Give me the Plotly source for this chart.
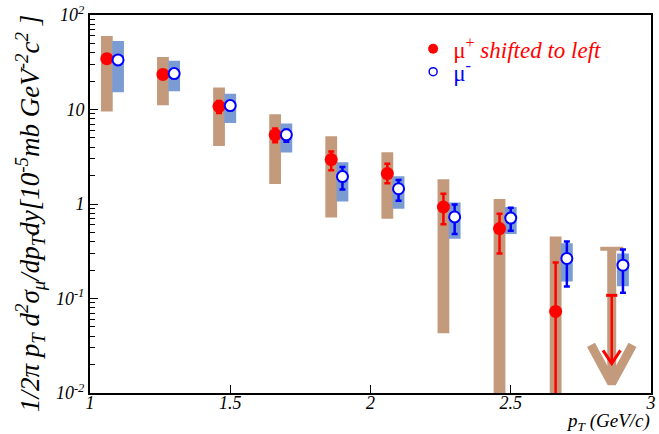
import plotly.graph_objects as go

# pT bin positions (GeV/c); mu+ points are shifted to the left of the mu- points
pt_mu_plus = [1.06, 1.26, 1.46, 1.66, 1.86, 2.06, 2.26, 2.46, 2.66, 2.86]
pt_mu_minus = [1.10, 1.30, 1.50, 1.70, 1.90, 2.10, 2.30, 2.50, 2.70, 2.90]

# mu+ yields [10^-5 mb GeV^-2 c^2] (last bin is an upper limit)
mup_val = [34.5, 23.5, 10.8, 5.4, 2.95, 2.1, 0.93, 0.55, 0.073]
mup_stat_hi = [37.0, 25.2, 12.3, 6.3, 3.6, 2.66, 1.28, 0.79, 0.24]
mup_stat_lo = [32.0, 21.8, 9.2, 4.5, 2.28, 1.66, 0.61, 0.30, 0.005]
mup_sys_hi = [60.0, 36.0, 17.1, 8.9, 5.2, 3.53, 1.83, 1.13, 0.453]
mup_sys_lo = [9.5, 11.1, 4.1, 1.63, 0.72, 0.70, 0.043, 0.005, 0.005]
mup_limit_stat = 0.108
mup_limit_sys = 0.336

# mu- yields [10^-5 mb GeV^-2 c^2]
mum_val = [33.5, 24.0, 11.0, 5.4, 1.95, 1.45, 0.73, 0.71, 0.265, 0.225]
mum_stat_hi = [36.0, 26.0, 12.2, 6.1, 2.47, 1.80, 0.99, 0.91, 0.40, 0.33]
mum_stat_lo = [31.0, 22.0, 9.9, 4.55, 1.42, 1.08, 0.48, 0.52, 0.134, 0.115]
mum_sys_hi = [53.0, 32.8, 14.7, 7.1, 2.77, 1.97, 1.04, 0.93, 0.385, 0.30]
mum_sys_lo = [15.2, 15.6, 7.2, 3.5, 1.06, 0.89, 0.43, 0.48, 0.151, 0.135]

x_ticks = [1, 1.5, 2, 2.5, 3]
x_ticktext = ["1", "1.5", "2", "2.5", "3"]
y_ticks = [0.01, 0.1, 1, 10, 100]
y_ticktext = ["10<sup>-2</sup>", "10<sup>-1</sup>", "1", "10", "10<sup>2</sup>"]

RED = "#ff0000"
BLUE = "#0000ff"
TAN = "#c49a7c"
SKY = "#7b9bd3"
FONT = "Liberation Serif"
BOX_HW = 0.021  # half width of the systematic boxes (GeV/c)


def boxes(xs, lo, hi):
    bx, by = [], []
    for x, a, b in zip(xs, lo, hi):
        bx += [x - BOX_HW, x + BOX_HW, x + BOX_HW, x - BOX_HW, x - BOX_HW, None]
        by += [a, a, b, b, a, None]
    return bx, by


fig = go.Figure()

# systematic uncertainty boxes
bx, by = boxes(pt_mu_plus[:-1], mup_sys_lo, mup_sys_hi)
fig.add_trace(go.Scatter(x=bx, y=by, mode="lines", fill="toself", fillcolor=TAN,
                         line=dict(width=0), showlegend=False, hoverinfo="skip"))
bx, by = boxes(pt_mu_minus, mum_sys_lo, mum_sys_hi)
fig.add_trace(go.Scatter(x=bx, y=by, mode="lines", fill="toself", fillcolor=SKY,
                         line=dict(width=0), showlegend=False, hoverinfo="skip"))

# systematic upper-limit arrow for the last mu+ bin
xl = pt_mu_plus[-1]
tip_sys = 0.0127
fig.add_trace(go.Scatter(x=[xl, xl], y=[mup_limit_sys, tip_sys * 1.15], mode="lines",
                         line=dict(color=TAN, width=9), showlegend=False, hoverinfo="skip"))
fig.add_trace(go.Scatter(x=[xl - 0.041, xl + 0.041], y=[mup_limit_sys, mup_limit_sys],
                         mode="lines", line=dict(color=TAN, width=4),
                         showlegend=False, hoverinfo="skip"))
fig.add_trace(go.Scatter(x=[xl - 0.074, xl, xl + 0.074],
                         y=[tip_sys * 2.55, tip_sys, tip_sys * 2.55], mode="lines",
                         line=dict(color=TAN, width=9), showlegend=False, hoverinfo="skip"))

# mu+ points with statistical errors
fig.add_trace(go.Scatter(
    x=pt_mu_plus[:-1], y=mup_val, mode="markers",
    marker=dict(color=RED, size=13, symbol="circle", line=dict(width=0)),
    error_y=dict(type="data", symmetric=False,
                 array=[h - v for h, v in zip(mup_stat_hi, mup_val)],
                 arrayminus=[v - l for v, l in zip(mup_val, mup_stat_lo)],
                 color=RED, thickness=2.5, width=3),
    showlegend=False, hoverinfo="skip"))

# mu- points with statistical errors
fig.add_trace(go.Scatter(
    x=pt_mu_minus, y=mum_val, mode="markers",
    marker=dict(color="white", size=11, symbol="circle", line=dict(color=BLUE, width=2)),
    error_y=dict(type="data", symmetric=False,
                 array=[h - v for h, v in zip(mum_stat_hi, mum_val)],
                 arrayminus=[v - l for v, l in zip(mum_val, mum_stat_lo)],
                 color=BLUE, thickness=2.5, width=3),
    showlegend=False, hoverinfo="skip"))

# statistical upper-limit arrow for the last mu+ bin
tip_stat = 0.0205
fig.add_trace(go.Scatter(x=[xl, xl], y=[mup_limit_stat, tip_stat], mode="lines",
                         line=dict(color=RED, width=2.5), showlegend=False, hoverinfo="skip"))
fig.add_trace(go.Scatter(x=[xl - 0.02, xl + 0.02], y=[mup_limit_stat, mup_limit_stat],
                         mode="lines", line=dict(color=RED, width=3),
                         showlegend=False, hoverinfo="skip"))
fig.add_trace(go.Scatter(x=[xl - 0.031, xl, xl + 0.031],
                         y=[tip_stat * 1.38, tip_stat, tip_stat * 1.38], mode="lines",
                         line=dict(color=RED, width=3), showlegend=False, hoverinfo="skip"))

# legend entries, one legend box per species
fig.add_trace(go.Scatter(x=[None], y=[None], mode="markers", legend="legend",
                         marker=dict(color=RED, size=10),
                         name='<span style="color:#ff0000">μ<sup>+</sup> <i>shifted to left</i></span>'))
fig.add_trace(go.Scatter(x=[None], y=[None], mode="markers", legend="legend2",
                         marker=dict(color="white", size=8, line=dict(color=BLUE, width=1.5)),
                         name='<span style="color:#0000ff">μ<sup>-</sup></span>'))

axis_common = dict(showline=True, linecolor="black", linewidth=2, mirror=True,
                   showgrid=False, zeroline=False, ticks="inside", tickcolor="black",
                   tickwidth=1, ticklen=8,
                   tickfont=dict(family=FONT, size=18, color="black", style="italic"))

fig.update_xaxes(range=[1, 3], tickvals=x_ticks, ticktext=x_ticktext,
                 ticklabelstandoff=-8, **axis_common)
fig.update_yaxes(type="log", range=[-2, 2], tickvals=y_ticks, ticktext=y_ticktext,
                 minor=dict(ticks="inside", ticklen=5, tickcolor="black",
                            tickvals=[m * 10 ** e for e in range(-2, 2) for m in range(2, 10)]),
                 **axis_common)

fig.add_annotation(
    text="1/2π p<sub>T</sub> d<sup>2</sup>σ<sub>μ</sub>/dp<sub>T</sub>dy[10<sup>-5</sup>mb GeV<sup>-2</sup>c<sup>2</sup> ]",
    xref="paper", yref="paper", x=-0.107, y=0.476, textangle=-90, showarrow=False,
    xanchor="center", yanchor="middle",
    font=dict(family=FONT, size=27, color="black", style="italic"))
fig.add_annotation(
    text="p<sub>T</sub> (GeV/c)", xref="paper", yref="paper", x=1.002, y=-0.077,
    xanchor="right", yanchor="middle", showarrow=False,
    font=dict(family=FONT, size=19, color="black", style="italic"))

legend_style = dict(xanchor="left", yanchor="middle", bgcolor="rgba(0,0,0,0)",
                    font=dict(family=FONT, size=23), itemsizing="trace")
fig.update_layout(
    width=659, height=434,
    margin=dict(l=90, r=3, t=13, b=41),
    paper_bgcolor="white", plot_bgcolor="white",
    legend=dict(x=0.576, y=0.9105, **legend_style),
    legend2=dict(x=0.576, y=0.850, **legend_style),
)

fig.write_html("out.html")
